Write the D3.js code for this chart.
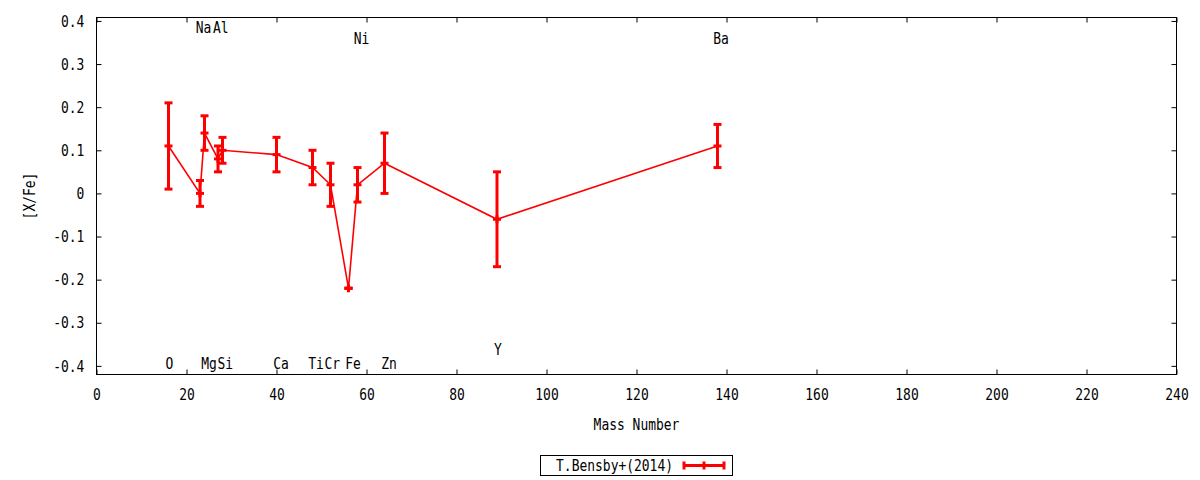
<!DOCTYPE html>
<html>
<head>
<meta charset="utf-8">
<script src="https://cdn.jsdelivr.net/npm/d3@7"></script>
<style>
  body { margin: 0; background: #fff; }
  text { font-family: "DejaVu Sans Mono", monospace; font-size: 16px; fill: #000; }
</style>
</head>
<body>
<div id="chart"></div>
<script>
// abundance ratios vs mass number, T.Bensby+(2014)
const elements = ["O", "Na", "Mg", "Al", "Si", "Ca", "Ti", "Cr", "Fe", "Ni", "Zn", "Y", "Ba"];
const massNumbers = [16, 23, 24, 27, 28, 40, 48, 52, 56, 58, 64, 89, 138];
const xfeValues = [0.11, 0.00, 0.14, 0.08, 0.10, 0.09, 0.06, 0.02, -0.22, 0.02, 0.07, -0.06, 0.11];
const xfeErrors = [0.10, 0.03, 0.04, 0.03, 0.03, 0.04, 0.04, 0.05, 0.00, 0.04, 0.07, 0.11, 0.05];

// where the element names sit (mass, [X/Fe])
const labelMass = [16.2, 23.8, 25.0, 27.6, 28.6, 41.0, 48.8, 52.4, 57.0, 58.9, 65.0, 89.2, 138.8];
const labelValue = [-0.394, 0.385, -0.394, 0.385, -0.394, -0.394, -0.394, -0.394, -0.394, 0.36, -0.394, -0.362, 0.36];

const xTicks = d3.range(0, 241, 20);
const yTicks = [-0.4, -0.3, -0.2, -0.1, 0, 0.1, 0.2, 0.3, 0.4];
const seriesName = "T.Bensby+(2014)";

var W = 1200, H = 480;
var pLeft = 96.5, pRight = 1176.5, pTop = 17.5, pBottom = 374.5;
var sx = 0.81; // squeeze glyphs horizontally, gnuplot font is narrow
var red = "#ff0000";

var x = d3.scaleLinear().domain([0, 240]).range([pLeft, pRight]);
var y = d3.scaleLinear().domain([-0.42, 0.408]).range([pBottom, pTop]);

var svg = d3.select("#chart").append("svg")
    .attr("width", W)
    .attr("height", H);

svg.append("rect").attr("width", W).attr("height", H).attr("fill", "#fff");

function fmt(v) { return String(Math.round(v * 10) / 10); }

// axes, ticks pointing inward on all four sides
svg.append("g").attr("transform", "translate(0," + pBottom + ")")
    .call(d3.axisBottom(x).tickValues(xTicks).tickSizeInner(-5).tickSizeOuter(0).tickPadding(14.4));
svg.append("g").attr("transform", "translate(" + pLeft + ",0)")
    .call(d3.axisLeft(y).tickValues(yTicks).tickFormat(fmt).tickSizeInner(-5).tickSizeOuter(0).tickPadding(15));
svg.append("g").attr("transform", "translate(0," + pTop + ")")
    .call(d3.axisTop(x).tickValues(xTicks).tickFormat("").tickSizeInner(-5).tickSizeOuter(0));
svg.append("g").attr("transform", "translate(" + pRight + ",0)")
    .call(d3.axisRight(y).tickValues(yTicks).tickFormat("").tickSizeInner(-5).tickSizeOuter(0));

svg.selectAll(".domain").remove();
svg.selectAll(".tick line").attr("stroke", "#000");
svg.selectAll(".tick text")
    .attr("fill", "#000")
    .attr("font-family", "DejaVu Sans Mono")
    .attr("font-size", 16)
    .attr("transform", "scale(" + sx + ",1)");

svg.append("rect")
    .attr("x", pLeft).attr("y", pTop)
    .attr("width", pRight - pLeft).attr("height", pBottom - pTop)
    .attr("fill", "none").attr("stroke", "#000").attr("stroke-width", 1);

function label(px, py, s, anchor, rot) {
  svg.append("text")
     .attr("transform", "translate(" + px + "," + py + ")" + (rot ? " rotate(" + rot + ")" : "") + " scale(" + sx + ",1)")
     .attr("text-anchor", anchor || "middle")
     .attr("dy", "0.35em")
     .text(s);
}

// axis titles
label((pLeft + pRight) / 2, 424.5, "Mass Number");
label(29.5, (pTop + pBottom) / 2, "[X/Fe]", "middle", -90);

// element names
elements.forEach(function(el, i) {
  label(x(labelMass[i]), y(labelValue[i]), el);
});

// connecting line
var pts = massNumbers.map(function(m, i) { return [m, xfeValues[i]]; });
svg.append("path")
    .attr("d", d3.line().x(function(d) { return x(d[0]); }).y(function(d) { return y(d[1]); })(pts))
    .attr("fill", "none")
    .attr("stroke", red)
    .attr("stroke-width", 1.6);

// error bars, with a "+" point at each value
var cap = 4;
var bars = svg.append("g").attr("stroke", red).attr("stroke-width", 3);
massNumbers.forEach(function(m, i) {
  var cx = x(m),
      y0 = y(xfeValues[i] - xfeErrors[i]),
      y1 = y(xfeValues[i] + xfeErrors[i]),
      yc = y(xfeValues[i]);
  bars.append("line").attr("x1", cx).attr("x2", cx).attr("y1", y0).attr("y2", y1);
  bars.append("line").attr("x1", cx - cap).attr("x2", cx + cap).attr("y1", y0).attr("y2", y0);
  bars.append("line").attr("x1", cx - cap).attr("x2", cx + cap).attr("y1", y1).attr("y2", y1);
  bars.append("line").attr("x1", cx - cap).attr("x2", cx + cap).attr("y1", yc).attr("y2", yc);
  bars.append("line").attr("x1", cx).attr("x2", cx).attr("y1", yc - cap).attr("y2", yc + cap);
});

// legend
svg.append("rect")
    .attr("x", 540.5).attr("y", 455.5).attr("width", 192).attr("height", 20)
    .attr("fill", "none").attr("stroke", "#000");
label(673, 465.5, seriesName, "end");
var lg = svg.append("g").attr("stroke", red).attr("stroke-width", 3);
lg.append("line").attr("x1", 684).attr("x2", 724).attr("y1", 465.5).attr("y2", 465.5);
[684, 704, 724].forEach(function(px) {
  lg.append("line").attr("x1", px).attr("x2", px).attr("y1", 461.5).attr("y2", 469.5);
});
</script>
</body>
</html>
